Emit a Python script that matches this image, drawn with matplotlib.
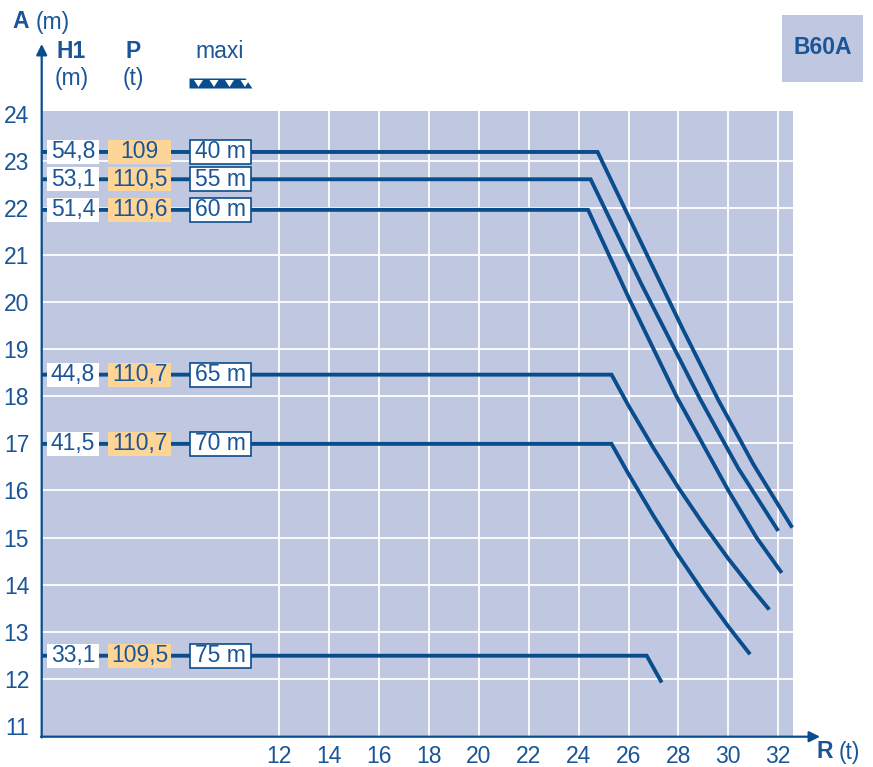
import numpy as np
import matplotlib.pyplot as plt
from matplotlib.patches import Rectangle, Polygon, FancyArrowPatch

plt.rcParams['font.family'] = ['Liberation Sans', 'DejaVu Sans']

masts = ['40 m', '55 m', '60 m', '65 m', '70 m', '75 m']
h1 = ['54,8', '53,1', '51,4', '44,8', '41,5', '33,1']
p = ['109', '110,5', '110,6', '110,7', '110,7', '109,5']
heights = [23.19, 22.61, 21.96, 18.46, 16.99, 12.49]

curve_x = [
    [24.76, 26.5, 28.2, 29.6, 31.0, 32.56],
    [24.48, 26.5, 28.86, 30.4, 32.0],
    [24.38, 26.0, 27.93, 30.0, 31.13, 32.14],
    [25.32, 26.0, 27.0, 28.0, 29.0, 30.0, 31.0, 31.64],
    [25.32, 26.0, 27.0, 28.0, 29.0, 30.0, 30.87],
    [26.73, 27.33],
]
curve_y = [
    [23.19, 21.27, 19.40, 17.92, 16.56, 15.21],
    [22.61, 20.4, 17.95, 16.47, 15.14],
    [21.96, 20.1, 17.99, 16.0, 15.0, 14.25],
    [18.46, 17.80, 16.90, 16.06, 15.28, 14.55, 13.88, 13.47],
    [16.99, 16.35, 15.46, 14.62, 13.84, 13.11, 12.52],
    [12.49, 11.92],
]

x_ticks = list(range(12, 33, 2))
y_ticks = list(range(11, 25))

navy = '#0a4d8c'
txt = '#1a5598'
bg = '#c0c7e1'
orange = '#fdd596'

W, H = 873, 767
fig = plt.figure(figsize=(W / 100, H / 100), dpi=100)


def fxy(x, y):
    # pixels de l'image -> fraction de la figure
    return x / W, 1 - y / H


ax = fig.add_axes([41.7 / W, 1 - 736.7 / H, 751 / W, 625.7 / H])
ax.set_facecolor(bg)
xmin, xmax = 2.48, 32.58
ax.set_xlim(xmin, xmax)
ax.set_ylim(10.77, 24.06)
for s in ax.spines.values():
    s.set_visible(False)

for xv in x_ticks:
    ax.axvline(xv, color='white', lw=1.3, zorder=1)
for yv in y_ticks[1:-1]:
    ax.axhline(yv, color='white', lw=1.3, zorder=1)

ax.set_xticks(x_ticks)
ax.set_yticks(y_ticks)
ax.tick_params(length=0, labelsize=16.5, labelcolor=txt, pad=6)
ax.tick_params(axis='y', pad=9)

# courbes
for i in range(len(masts)):
    xs = [xmin] + curve_x[i]
    ys = [heights[i]] + curve_y[i]
    ax.plot(xs, ys, color=navy, lw=2.8, solid_capstyle='butt',
            solid_joinstyle='miter', zorder=3, clip_on=False)

# etiquettes a gauche
sx, sy = 24.95, 47.1  # pixels par unite
for i in range(len(masts)):
    y = heights[i]
    bh = 24 / sy
    ax.add_patch(Rectangle((12 - (279.3 - 46.7) / sx, y - bh / 2), 52.6 / sx, bh,
                           facecolor='white', edgecolor='none', zorder=4))
    ax.text(12 - (279.3 - 73) / sx, y, h1[i], ha='center', va='center',
            fontsize=16.5, color=txt, zorder=5)
    ax.add_patch(Rectangle((12 - (279.3 - 108.3) / sx, y - bh / 2), 62.7 / sx, bh,
                           facecolor=orange, edgecolor='none', zorder=4))
    ax.text(12 - (279.3 - 139.6) / sx, y, p[i], ha='center', va='center',
            fontsize=16.5, color=txt, zorder=5)
    ax.add_patch(Rectangle((12 - (279.3 - 189.8) / sx, y - bh / 2), 61.5 / sx, bh,
                           facecolor='white', edgecolor=navy, lw=1.2, zorder=4))
    ax.text(12 - (279.3 - 220.5) / sx, y, masts[i], ha='center', va='center',
            fontsize=16.5, color=txt, zorder=5)

# axes avec fleches
ax_kw = dict(arrowstyle='-|>', color=navy, lw=1.6, mutation_scale=16,
             transform=fig.transFigure, shrinkA=0, shrinkB=0)
fig.add_artist(FancyArrowPatch(fxy(41.7, 737.5), fxy(41.7, 44), **ax_kw))
fig.add_artist(FancyArrowPatch(fxy(41.0, 736.7), fxy(820, 736.7), **ax_kw))

# en-tetes
fs = 16.5
fig.text(*fxy(12, 22), 'A', fontsize=fs, fontweight='bold', color=txt, va='center')
fig.text(*fxy(36, 22), '(m)', fontsize=fs, color=txt, va='center')
fig.text(*fxy(71, 52), 'H1', fontsize=fs, fontweight='bold', color=txt, ha='center', va='center')
fig.text(*fxy(72, 79), '(m)', fontsize=fs, color=txt, ha='center', va='center')
fig.text(*fxy(133, 52), 'P', fontsize=fs, fontweight='bold', color=txt, ha='center', va='center')
fig.text(*fxy(133, 79), '(t)', fontsize=fs, color=txt, ha='center', va='center')
fig.text(*fxy(220, 52), 'maxi', fontsize=fs, color=txt, ha='center', va='center')
fig.text(*fxy(825, 752), 'R', fontsize=fs, fontweight='bold', color=txt, ha='center', va='center')
fig.text(*fxy(849, 752), '(t)', fontsize=fs, color=txt, ha='center', va='center')

# symbole de treillis
x0, y0, x1, y1 = 189.5, 78.5, 252.5, 88.5
fig.add_artist(Polygon([fxy(x0, y0), fxy(x1 - 7, y0), fxy(x1, y1), fxy(x0, y1)],
                       closed=True, transform=fig.transFigure,
                       facecolor=navy, edgecolor='none'))
for k in range(4):
    a = x0 + 4.5 + k * 15.5
    fig.add_artist(Polygon([fxy(a, y0 + 1.5), fxy(a + 9, y0 + 1.5), fxy(a + 4.5, y1 - 1.5)],
                           closed=True, transform=fig.transFigure,
                           facecolor='white', edgecolor='none'))

# cartouche B60A
bx, by = fxy(782, 81.7)
fig.add_artist(Rectangle((bx, by), 80.7 / W, 66.7 / H, transform=fig.transFigure,
                         facecolor=bg, edgecolor='none'))
fig.text(*fxy(822.5, 48), 'B60A', fontsize=fs, fontweight='bold', color=txt,
         ha='center', va='center')

fig.savefig('out.png', dpi=100)
